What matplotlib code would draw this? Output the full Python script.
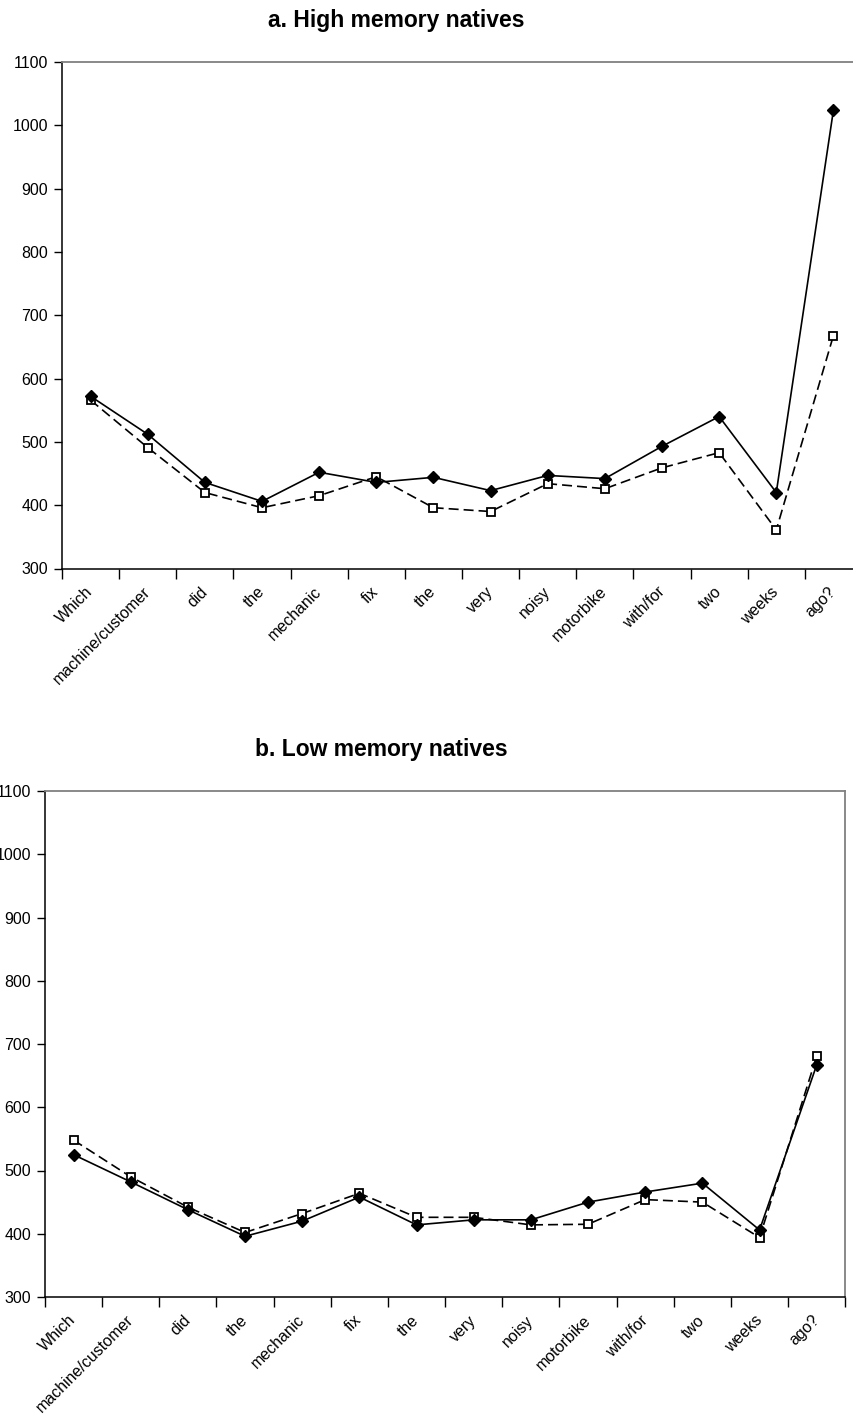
import matplotlib.pyplot as plt
import numpy as np

plt.rcParams['font.family'] = ['Liberation Sans', 'DejaVu Sans']

words = ["Which", "machine/customer", "did", "the", "mechanic", "fix", "the",
         "very", "noisy", "motorbike", "with/for", "two", "weeks", "ago?"]

# reading times per word, high memory group
high_filled = [572, 512, 436, 406, 452, 436, 444, 423, 447, 442, 493, 540, 420, 1024]
high_open = [566, 491, 420, 396, 415, 445, 396, 390, 434, 426, 459, 483, 361, 668]

# reading times per word, low memory group
low_filled = [525, 482, 438, 396, 420, 458, 414, 422, 422, 450, 466, 480, 406, 667]
low_open = [548, 490, 442, 402, 432, 464, 426, 426, 414, 415, 454, 450, 394, 681]

y_ticks = [300, 400, 500, 600, 700, 800, 900, 1000, 1100]

W, H = 854, 1419
fig = plt.figure(figsize=(W / 100, H / 100), dpi=100)


def px_axes(left, top, right, bottom):
    return fig.add_axes([left / W, 1 - bottom / H, (right - left) / W, (bottom - top) / H])


def draw_panel(ax, filled, opened):
    xs = np.arange(len(words))
    ax.plot(xs, opened, color='black', lw=1.2, ls=(0, (6, 3)),
            marker='s', ms=6, mfc='white', mec='black', mew=1.3, zorder=3)
    ax.plot(xs, filled, color='black', lw=1.2, ls='-',
            marker='D', ms=5.8, mfc='black', mec='black', zorder=4)

    ax.set_xlim(-0.5, len(words) - 0.5)
    ax.set_ylim(300, 1100)
    ax.set_yticks(y_ticks)

    # category boundaries carry the tick marks, centres carry the labels
    ax.set_xticks(np.arange(len(words) + 1) - 0.5)
    ax.set_xticklabels([])
    ax.set_xticks(xs, words, minor=True)
    ax.tick_params(axis='x', which='major', direction='out', length=7, width=1)
    ax.tick_params(axis='x', which='minor', length=0, pad=15, labelsize=11.5)
    ax.tick_params(axis='y', direction='out', length=6, width=1, pad=4, labelsize=11.5)
    plt.setp(ax.get_xminorticklabels(), rotation=45, ha='right', va='center',
             rotation_mode='anchor')

    for side in ('left', 'bottom'):
        ax.spines[side].set_color('black')
        ax.spines[side].set_linewidth(1.1)
    for side in ('top', 'right'):
        ax.spines[side].set_color('#808080')
        ax.spines[side].set_linewidth(1.3)


ax_a = px_axes(62, 62, 862, 568.5)
draw_panel(ax_a, high_filled, high_open)
fig.text(396 / W, 1 - 27 / H, "a. High memory natives", ha='center', va='baseline',
         fontsize=16.5, fontweight='bold')

ax_b = px_axes(45, 791, 845.3, 1297)
draw_panel(ax_b, low_filled, low_open)
fig.text(381 / W, 1 - 756 / H, "b. Low memory natives", ha='center', va='baseline',
         fontsize=16.5, fontweight='bold')

fig.savefig("out.png", dpi=100)
plt.close(fig)
